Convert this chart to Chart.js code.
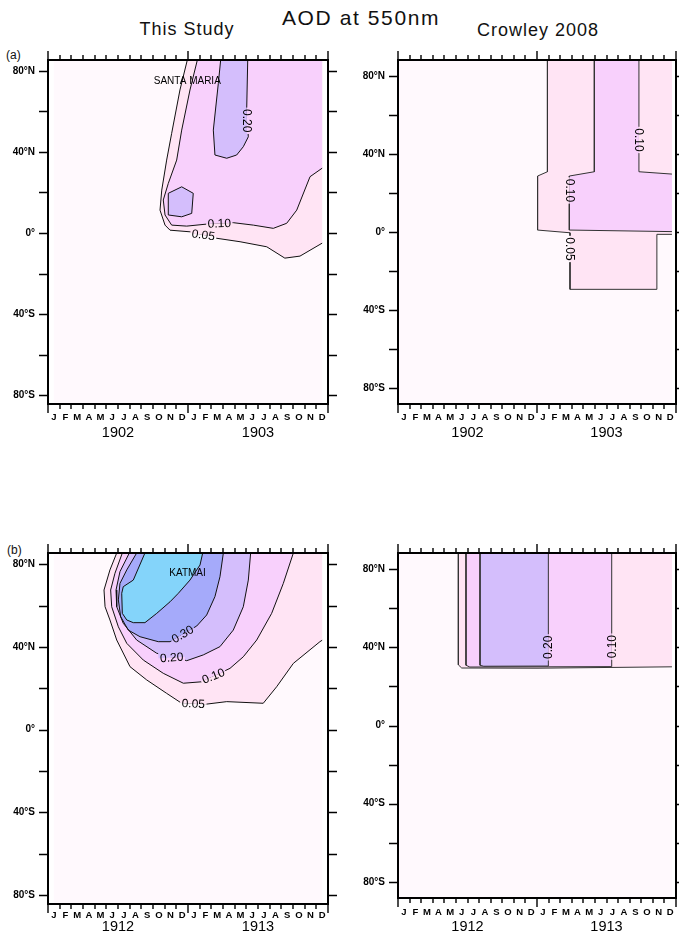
<!DOCTYPE html>
<html><head><meta charset="utf-8">
<script src="https://cdn.jsdelivr.net/npm/chart.js@4.4.1/dist/chart.umd.min.js"></script>
<style>
html,body{margin:0;padding:0;background:#fff;width:679px;height:934px;overflow:hidden;position:relative;font-family:"Liberation Sans",Arial,sans-serif}
canvas{position:absolute}
.t{position:absolute;white-space:nowrap;color:#111;line-height:1}
</style></head><body>
<div class="t" id="tMain" style="font-size:21px;letter-spacing:1.6px;left:361px;top:7px;transform:translateX(-50%)">AOD at 550nm</div>
<div class="t" style="font-size:18px;letter-spacing:1px;left:187px;top:20px;transform:translateX(-50%)">This Study</div>
<div class="t" style="font-size:18px;letter-spacing:1px;left:538px;top:21px;transform:translateX(-50%)">Crowley 2008</div>
<div class="t" style="font-size:12px;left:6px;top:49px">(a)</div>
<div class="t" style="font-size:12px;left:7px;top:544px">(b)</div>
<script>
// ---------- axis labels ----------
const MONTHS = ['J','F','M','A','M','J','J','A','S','O','N','D'];
const YEARS_A = ['1902','1903'];
const YEARS_B = ['1912','1913'];
const LAT_TICKS = [80,60,40,20,0,-20,-40,-60,-80];
const LAT_LABEL_VALUES = [80,40,0,-40,-80];
const LAT_LABEL_TEXT = ['80°N','40°N','0°','40°S','80°S'];
const LEVELS = [0.05,0.10,0.20,0.30,0.40];

// ---------- contour lines, [month since Jan of first year, latitude] ----------
// (a) This Study, Santa Maria 1902-1903
const A_STUDY_005 = [[11.94,85.4],[11.31,70.6],[10.6,49.2],[10.17,36.0],[9.75,21.2],[9.6,11.3],[10.03,3.9],[10.46,1.4],[12.17,0.6],[14.46,-2.6],[16.46,-4.3],[18.75,-6.8],[20.3,-12.4],[21.6,-11.4],[23.5,-5.0]];
const A_STUDY_010 = [[12.8,85.4],[12.17,70.6],[11.46,50.8],[11.03,36.0],[10.31,24.5],[9.88,16.3],[10.03,8.9],[10.6,3.9],[11.89,3.4],[13.6,4.4],[15.88,5.1],[17.6,3.9],[19.31,2.3],[20.46,4.8],[21.32,11.3],[22.46,27.8],[23.5,32.0]];
const A_STUDY_020 = [[14.8,85.4],[14.6,73.9],[14.17,50.8],[14.31,38.5],[15.32,36.9],[16.17,38.5],[16.74,42.6],[17.17,47.5],[17.03,60.7],[17.12,85.4]];
const A_STUDY_020B = [[11.46,22.8],[12.45,19.6],[12.32,9.7],[11.46,8.0],[10.31,8.9],[10.31,19.6],[11.46,22.8]];
// (a) Crowley 2008
const A_CROW_005 = [[12.9,88.2],[12.9,30.9],[12.05,28.7],[12.05,1.0],[14.85,-0.4],[14.85,-29.4],[22.35,-29.4],[22.35,-1.2],[23.65,-1.2]];
const A_CROW_010 = [[16.95,88.2],[16.95,30.9],[14.79,28.7],[14.79,1.0],[23.65,0.2],null,[23.65,29.7],[20.8,30.9],[20.8,88.2]];
// (b) This Study, Katmai 1912-1913
const B_STUDY_005 = [[5.89,85.4],[5.31,77.2],[4.8,67.5],[4.89,59.4],[5.31,53.0],[5.89,43.3],[7.03,30.4],[8.46,24.0],[10.17,17.5],[11.46,12.7],[13.6,12.3],[15.32,13.5],[18.45,12.7],[19.6,20.7],[21.03,32.0],[23.31,42.5],[23.5,43.2]];
const B_STUDY_010 = [[6.37,85.4],[5.74,75.6],[5.37,67.5],[5.46,59.4],[6.03,49.7],[6.75,41.7],[8.17,33.6],[9.88,27.2],[11.6,22.4],[13.17,23.1],[15.6,29.6],[16.74,35.2],[17.89,43.3],[19.17,56.2],[20.17,70.7],[21.03,85.4]];
const B_STUDY_020 = [[6.97,85.4],[6.17,76.4],[5.83,67.5],[5.89,59.4],[6.45,51.4],[7.6,43.3],[9.32,36.9],[11.89,33.3],[13.31,36.1],[14.74,40.1],[15.88,48.1],[16.74,59.4],[17.17,72.3],[17.37,85.4]];
const B_STUDY_030 = [[7.6,85.4],[6.75,77.2],[6.17,70.7],[6.03,62.7],[6.23,54.6],[6.88,48.1],[7.89,44.9],[9.45,42.5],[10.46,42.5],[12.75,50.1],[13.6,55.4],[14.31,64.3],[14.74,73.9],[15.03,85.4]];
const B_STUDY_040 = [[8.31,85.4],[7.31,72.3],[6.45,69.1],[6.32,65.9],[6.37,56.2],[6.75,53.0],[7.31,51.7],[8.31,51.7],[9.32,56.2],[10.46,61.8],[11.17,65.9],[12.17,72.3],[13.03,79.6],[13.26,85.4]];
// (b) Crowley 2008
const B_CROW_005 = [[5.21,88.2],[5.21,31.0],[5.5,29.4],[12.0,29.3],[23.65,30.0]];
const B_CROW_010 = [[5.87,88.2],[5.87,30.8],[6.2,29.9],[18.45,30.1],[18.45,88.2]];
const B_CROW_020 = [[7.08,88.2],[7.08,30.8],[7.4,30.3],[12.98,30.4],[12.98,88.2]];

// data extents (where the field is defined)
const STUDY_EXTENT = [[0.5,85.4],[0.5,-84.4],[23.5,-84.4],[23.5,85.4]];
const CROW_EXTENT = [[0,88.2],[0,-88.2],[23.65,-88.2],[23.65,88.2]];

// contour value labels
const A_STUDY_LABELS = [
  {t:'0.20', at:[17.03,55.4], rot:90, a:2, b:3},
  {t:'0.10', at:[14.69,4.7], rot:-2, a:2, b:1},
  {t:'0.05', at:[13.31,-1.0], rot:8, a:1, b:0}];
const A_CROW_LABELS = [
  {t:'0.10', at:[20.8,47.2], rot:90, a:1, b:2},
  {t:'0.10', at:[14.79,21.3], rot:90, a:2, b:1},
  {t:'0.05', at:[14.85,-8.7], rot:90, a:1, b:0}];
const B_STUDY_LABELS = [
  {t:'0.05', at:[12.45,12.5], rot:3, a:1, b:0},
  {t:'0.10', at:[14.17,25.8], rot:-22, a:2, b:1},
  {t:'0.20', at:[10.6,34.8], rot:-4, a:3, b:2},
  {t:'0.30', at:[11.54,46.1], rot:-30, a:4, b:3}];
const B_CROW_LABELS = [
  {t:'0.20', at:[12.98,40.0], rot:-90, a:3, b:2},
  {t:'0.10', at:[18.45,40.3], rot:-90, a:2, b:1}];
const A_NAMES = [{t:'SANTA MARIA', at:[11.94,74.7]}];
const B_NAMES = [{t:'KATMAI', at:[11.96,75.6]}];

// fill colours: background, 0.05-0.1, 0.1-0.2, 0.2-0.3, 0.3-0.4, >0.4
const FILL = ['#FFF9FD','#FFE4F4','#F8D0FC','#D4BEFC','#A5AAFA','#84D4FA'];
const FONT = '"Liberation Sans", Arial, sans-serif';

const PANELS = [
  {box:[0,40,340,410], area:[48,60,328,404], y:[-84.4,85.4], years:YEARS_A, extent:STUDY_EXTENT, lineColor:'#111', monthOff:13, yearOff:29,
   contours:[{lev:1,line:A_STUDY_005,close:[[23.5,85.4]]},{lev:2,line:A_STUDY_010,close:[[23.5,85.4]]},{lev:3,line:A_STUDY_020,close:[]},{lev:3,line:A_STUDY_020B,close:[]}],
   labels:A_STUDY_LABELS, names:A_NAMES},
  {box:[340,40,339,410], area:[398,60,676,404], y:[-88.2,88.2], years:YEARS_A, extent:CROW_EXTENT, lineColor:'#333', monthOff:13, yearOff:29,
   contours:[{lev:1,line:A_CROW_005,close:[[23.65,88.2]]},{lev:2,line:A_CROW_010,close:[]}],
   labels:A_CROW_LABELS, names:[]},
  {box:[0,533,340,401], area:[48,553,328,904], y:[-84.4,85.4], years:YEARS_B, extent:STUDY_EXTENT, lineColor:'#111', monthOff:11, yearOff:23,
   contours:[{lev:1,line:B_STUDY_005,close:[[23.5,85.4]]},{lev:2,line:B_STUDY_010,close:[]},{lev:3,line:B_STUDY_020,close:[]},{lev:4,line:B_STUDY_030,close:[]},{lev:5,line:B_STUDY_040,close:[]}],
   labels:B_STUDY_LABELS, names:B_NAMES},
  {box:[340,533,339,401], area:[398,553,676,898], y:[-88.2,88.2], years:YEARS_B, extent:CROW_EXTENT, lineColor:'#333', monthOff:14.5, yearOff:28.5,
   contours:[{lev:1,line:B_CROW_005,close:[[23.65,88.2]]},{lev:2,line:B_CROW_010,close:[]},{lev:3,line:B_CROW_020,close:[]}],
   labels:B_CROW_LABELS, names:[]}
];

function makeGeoPlugin(p, idx) {
  return {
    id: 'geo' + idx,
    afterDatasetsDraw(chart) {
      const {ctx, scales:{x, y}} = chart;
      ctx.save();
      ctx.fillStyle = '#000';
      ctx.textAlign = 'center'; ctx.textBaseline = 'middle';
      ctx.font = '10px ' + FONT;
      p.names.forEach(n => ctx.fillText(n.t, x.getPixelForValue(n.at[0]), y.getPixelForValue(n.at[1])));
      ctx.font = '12px ' + FONT;
      p.labels.forEach(l => {
        const px = x.getPixelForValue(l.at[0]), py = y.getPixelForValue(l.at[1]);
        const w = ctx.measureText(l.t).width + 3, h = 11;
        ctx.save();
        ctx.translate(px, py); ctx.rotate(l.rot * Math.PI / 180);
        ctx.fillStyle = FILL[l.a]; ctx.fillRect(-w/2, -h/2, w, h/2);
        ctx.fillStyle = FILL[l.b]; ctx.fillRect(-w/2, 0, w, h/2);
        ctx.fillStyle = '#000'; ctx.fillText(l.t, 0, 0.5);
        ctx.restore();
      });
      ctx.restore();
    },
    afterDraw(chart) {
      const {ctx, chartArea: ca, scales:{x, y}} = chart;
      ctx.save();
      ctx.strokeStyle = '#000'; ctx.fillStyle = '#000';
      ctx.lineWidth = 1.4;
      ctx.beginPath();
      for (let m = 0; m <= 24; m++) {
        const px = Math.round(x.getPixelForValue(m));
        const len = m % 12 === 0 ? 9 : 5;
        ctx.moveTo(px, ca.top); ctx.lineTo(px, ca.top - len);
        ctx.moveTo(px, ca.bottom); ctx.lineTo(px, ca.bottom + len);
      }
      LAT_TICKS.forEach(v => {
        const py = Math.round(y.getPixelForValue(v)) + 0.5;
        ctx.moveTo(ca.left - 9, py); ctx.lineTo(ca.left, py);
        ctx.moveTo(ca.right, py); ctx.lineTo(ca.right + 9, py);
      });
      ctx.stroke();
      ctx.lineWidth = 2;
      ctx.strokeRect(ca.left, ca.top, ca.right - ca.left, ca.bottom - ca.top);
      ctx.textBaseline = 'middle';
      ctx.textAlign = 'right';
      ctx.font = 'bold 10px ' + FONT;
      LAT_LABEL_VALUES.forEach((v, i) => ctx.fillText(LAT_LABEL_TEXT[i], ca.left - 13, y.getPixelForValue(v)));
      ctx.textAlign = 'center';
      ctx.font = 'bold 9.5px ' + FONT;
      for (let m = 0; m < 24; m++) ctx.fillText(MONTHS[m % 12], x.getPixelForValue(m + 0.5), ca.bottom + p.monthOff);
      ctx.font = '14.5px ' + FONT;
      p.years.forEach((yr, i) => ctx.fillText(yr, x.getPixelForValue(6 + 12 * i), ca.bottom + p.yearOff));
      ctx.restore();
    }
  };
}

const toPts = arr => arr.map(q => q ? {x:q[0], y:q[1]} : {x:null, y:null});

PANELS.forEach((p, idx) => {
  const cv = document.createElement('canvas');
  cv.width = p.box[2]; cv.height = p.box[3];
  cv.style.left = p.box[0] + 'px'; cv.style.top = p.box[1] + 'px';
  cv.style.width = p.box[2] + 'px'; cv.style.height = p.box[3] + 'px';
  document.body.appendChild(cv);
  const pad = {left: p.area[0] - p.box[0], top: p.area[1] - p.box[1],
               right: p.box[0] + p.box[2] - p.area[2], bottom: p.box[1] + p.box[3] - p.area[3]};
  const base = {type:'line', showLine:true, pointRadius:0, tension:0, borderJoinStyle:'round'};
  const datasets = [];
  datasets.push(Object.assign({}, base, {data: toPts(p.extent), fill:'shape', backgroundColor:FILL[0], borderWidth:0, borderColor:'rgba(0,0,0,0)', order:30}));
  p.contours.forEach(c => {
    datasets.push(Object.assign({}, base, {label:'AOD ' + LEVELS[c.lev-1], data: toPts(c.line.filter(q => q).concat(c.close)), fill:'shape',
      backgroundColor:FILL[c.lev], borderWidth:0, borderColor:'rgba(0,0,0,0)', order:30 - c.lev}));
  });
  p.contours.forEach(c => {
    datasets.push(Object.assign({}, base, {data: toPts(c.line), fill:false, borderColor:p.lineColor, borderWidth:1, spanGaps:false, order:0}));
  });
  new Chart(cv, {
    type:'line',
    data:{datasets},
    options:{
      responsive:false, animation:false, events:[], devicePixelRatio:1,
      layout:{padding:pad},
      plugins:{legend:{display:false}, tooltip:{enabled:false}},
      scales:{
        x:{type:'linear', min:0, max:24, display:false},
        y:{type:'linear', min:p.y[0], max:p.y[1], display:false}
      }
    },
    plugins:[makeGeoPlugin(p, idx)]
  });
});
</script>
</body></html>
